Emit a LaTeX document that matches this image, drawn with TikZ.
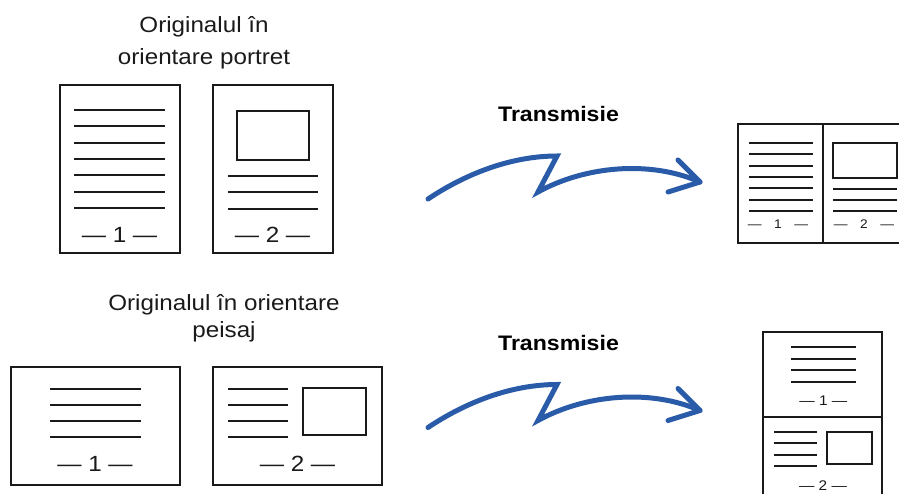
\documentclass[tikz,border=0pt]{standalone}
\usepackage{fontspec}
\setmainfont{Liberation Sans}[FakeStretch=1.1]
\usepackage{tikz}
\usetikzlibrary{arrows.meta,positioning,calc}
\definecolor{trblue}{HTML}{2A5BA8}
\definecolor{ink}{HTML}{1A1A1A}
\tikzset{
  page/.style={draw=ink,line width=2.6pt,fill=white},
  txtline/.style={draw=ink,line width=2.2pt},
  smline/.style={draw=ink,line width=2pt},
  picbox/.style={draw=ink,line width=2.4pt},
  fold/.style={draw=ink,line width=1.1pt},
  lbl/.style={align=center,inner sep=0pt,anchor=base,text=ink},
  pnum/.style={inner sep=0pt,anchor=base,text=ink,font=\fontsize{22}{26}\selectfont},
  snum/.style={inner sep=0pt,anchor=base,text=ink},
  trlbl/.style={inner sep=0pt,anchor=base,font=\fontsize{21}{25}\selectfont\bfseries},
  wave/.style={draw=trblue,line width=5pt,line cap=round,line join=miter},
}

\begin{document}
\begin{tikzpicture}[x=1pt,y=-1pt]
  \useasboundingbox (0,0) rectangle (899,494);
  \clip (0,0) rectangle (899,494);
  % portrait originals (base = last line)
  \node[lbl,font=\fontsize{22}{32}\selectfont] (portlbl) at (204,65) {Originalul în\\orientare portret};
  \draw[page] (60,85) rectangle (180,253);
  \foreach \i in {0,...,6} { \draw[txtline] (74,{110+16.33*\i}) -- (165,{110+16.33*\i}); }
  \node[pnum] (pnA) at (119.5,242.3) {— 1 —};
  \draw[page] (213,85) rectangle (333,253);
  \draw[picbox] (237,111) rectangle (309,160);
  \foreach \i in {0,...,2} { \draw[txtline] (228,{176+16.33*\i}) -- (318,{176+16.33*\i}); }
  \node[pnum] (pnB) at (272.5,242.3) {— 2 —};
  % landscape originals
  \node[lbl,font=\fontsize{22}{27}\selectfont] (landlbl) at (224,337.3) {Originalul în orientare\\peisaj};
  \draw[page] (11,367) rectangle (180,485);
  \foreach \i in {0,...,3} { \draw[txtline] (50,{389+16*\i}) -- (141,{389+16*\i}); }
  \node[pnum] (pnC) at (95,471.7) {— 1 —};
  \draw[page] (213,367) rectangle (382,485);
  \foreach \i in {0,...,3} { \draw[txtline] (228,{389+16*\i}) -- (288,{389+16*\i}); }
  \draw[picbox] (303,388) rectangle (366,435);
  \node[pnum] (pnD) at (297.5,471.7) {— 2 —};
  % transmission arrows
  \foreach \dy/\nm in {0/trA,228.5/trB} {
    \node[trlbl] (\nm) at (558.5,{121.7+\dy}) {Transmisie};
    \draw[wave] (428,{199+\dy}) .. controls (470,{171+\dy}) and (515,{156+\dy}) .. (557,{156+\dy})
      -- (538,{192+\dy}) .. controls (585,{166+\dy}) and (650,{160+\dy}) .. (700,{182+\dy});
    \draw[wave,line join=round] (678,{160+\dy}) -- (700,{182+\dy}) -- (668,{192+\dy});
  }
  % received: portrait pair side by side
  \draw[page,line width=2.4pt] (738,124) rectangle (910,243);
  \draw[fold] (823,124) -- (823,243);
  \foreach \i in {0,...,6} { \draw[smline] (749,{142.7+11.43*\i}) -- (813,{142.7+11.43*\i}); }
  \draw[picbox,line width=2.2pt] (833,143) rectangle (897,178);
  \foreach \i in {0,...,2} { \draw[smline] (833,{188.7+11.3*\i}) -- (897,{188.7+11.3*\i}); }
  \node[snum,font=\fontsize{12.5}{14}\selectfont] (rnA) at (778,229) {—\quad1\quad—};
  \node[snum,font=\fontsize{12.5}{14}\selectfont] (rnB) at (864,229) {—\quad2\quad—};
  % received: landscape pair stacked
  \draw[page,line width=2.4pt] (763,332) rectangle (882,510);
  \draw[fold] (763,417) -- (882,417);
  \foreach \i in {0,...,3} { \draw[smline] (791,{347.3+11.57*\i}) -- (856,{347.3+11.57*\i}); }
  \node[snum,font=\fontsize{14}{16}\selectfont] (rnC) at (823.3,405) {— 1 —};
  \foreach \i in {0,...,3} { \draw[smline] (774,{432.3+11.1*\i}) -- (817,{432.3+11.1*\i}); }
  \draw[picbox,line width=2.2pt] (827,432) rectangle (872,464);
  \node[snum,font=\fontsize{14}{16}\selectfont] (rnD) at (823,490) {— 2 —};
\end{tikzpicture}
\end{document}
